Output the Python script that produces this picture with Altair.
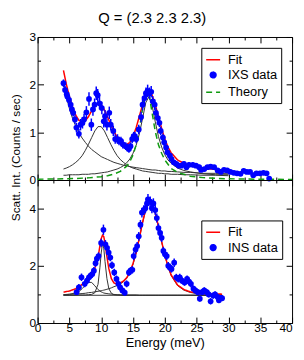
import altair as alt
import pandas as pd

title_text = "Q = (2.3 2.3 2.3)"
y_title = "Scatt. Int. (Counts / sec)"
x_title = "Energy (meV)"

# ---------------- IXS (top panel) ----------------
ixs_E = [4.07, 4.32, 4.58, 4.68, 4.94, 5.20, 5.40, 5.60, 5.87, 6.10, 6.49, 6.75, 7.06, 7.30,
         7.67, 8.08, 8.45, 8.70, 8.96, 9.22, 9.45, 9.73, 10.10, 10.40, 10.60, 10.90, 11.27,
         11.50, 11.90, 12.20, 12.56, 12.80, 13.10, 13.40, 13.85, 14.10, 14.36, 14.60, 14.87,
         15.10, 15.30, 15.50, 15.90, 16.27, 16.50, 16.80, 17.04, 17.30, 17.60, 17.86, 18.10,
         18.40, 18.60, 18.90, 19.15, 19.35, 19.70, 19.90, 20.20, 20.40, 20.80, 21.05, 21.40,
         21.80, 22.20, 22.60, 23.00, 23.40, 23.80, 24.40, 24.90, 25.40, 25.70, 26.20, 26.70,
         27.20, 27.75, 28.30, 28.80, 29.30, 29.80, 30.30, 30.85, 31.35, 31.90, 32.40, 32.90,
         33.40, 33.90, 34.40, 34.95, 35.50, 36.00, 36.40]
ixs_I = [2.03, 1.89, 1.80, 1.75, 1.68, 1.58, 1.48, 1.41, 1.27, 1.10, 0.97, 1.16, 1.20, 1.27,
         1.42, 1.70, 1.16, 1.48, 1.58, 1.82, 1.78, 1.61, 1.51, 1.23, 1.34, 1.16, 1.41,
         1.16, 1.03, 0.86, 0.86, 0.82, 0.82, 0.75, 0.71, 0.68, 0.65, 0.71, 0.86,
         0.92, 0.92, 0.86, 1.06, 1.32, 1.58, 1.72, 1.82, 1.87, 1.82, 1.85, 1.65,
         1.58, 1.41, 1.30, 1.20, 1.03, 0.89, 0.79, 0.68, 0.58, 0.51, 0.44, 0.37,
         0.34, 0.30, 0.30, 0.34, 0.27, 0.32, 0.32, 0.30, 0.27, 0.21, 0.23, 0.27,
         0.28, 0.27, 0.20, 0.17, 0.21, 0.20, 0.17, 0.15, 0.14, 0.13, 0.19, 0.17,
         0.17, 0.10, 0.14, 0.14, 0.15, 0.14, 0.03]
ixs_err = [0.08, 0.08, 0.08, 0.08, 0.08, 0.08, 0.08, 0.08, 0.09, 0.10, 0.10, 0.12, 0.12, 0.12,
           0.13, 0.14, 0.13, 0.13, 0.13, 0.14, 0.13, 0.13, 0.13, 0.13, 0.13, 0.12, 0.13,
           0.12, 0.11, 0.10, 0.10, 0.09, 0.09, 0.09, 0.08, 0.08, 0.08, 0.08, 0.09,
           0.09, 0.09, 0.09, 0.10, 0.11, 0.12, 0.12, 0.12, 0.13, 0.12, 0.12, 0.11,
           0.11, 0.10, 0.10, 0.09, 0.09, 0.08, 0.08, 0.07, 0.07, 0.06, 0.06, 0.05,
           0.05, 0.05, 0.05, 0.05, 0.05, 0.05, 0.05, 0.05, 0.05, 0.04, 0.04, 0.04,
           0.04, 0.04, 0.04, 0.04, 0.04, 0.04, 0.04, 0.04, 0.04, 0.04, 0.04, 0.04,
           0.04, 0.04, 0.04, 0.04, 0.04, 0.04, 0.04]

top_curve_E = [4.07, 4.5, 5, 5.5, 6, 6.5, 7, 7.5, 8, 8.5, 9, 9.5, 10, 10.5, 11, 11.5, 12, 12.5,
               13, 13.5, 14, 14.5, 15, 15.5, 16, 16.5, 17, 17.5, 18, 18.5, 19, 19.5, 20, 20.5,
               21, 22, 23, 24, 26, 28, 30]
top_fit = [2.30, 2.02, 1.75, 1.53, 1.36, 1.25, 1.21, 1.24, 1.33, 1.45, 1.56, 1.61, 1.58, 1.47,
           1.32, 1.16, 1.02, 0.90, 0.81, 0.75, 0.74, 0.79, 0.91, 1.10, 1.34, 1.58, 1.77, 1.85,
           1.78, 1.58, 1.33, 1.08, 0.86, 0.69, 0.57, 0.42, 0.35, 0.30, 0.25, 0.22, 0.20]
top_comp_qe = [2.04, 1.76, 1.50, 1.29, 1.13, 0.99, 0.88, 0.79, 0.71, 0.64, 0.59, 0.54, 0.49, 0.46,
               0.43, 0.40, 0.37, 0.35, 0.33, 0.31, 0.30, 0.28, 0.27, 0.26, 0.25, 0.24, 0.23, 0.22,
               0.21, 0.21, 0.20, 0.19, 0.19, 0.18, 0.18, 0.17, 0.16, 0.16, 0.14, 0.14, 0.13]
top_comp_p1 = [0.23, 0.25, 0.28, 0.32, 0.37, 0.43, 0.51, 0.62, 0.75, 0.89, 1.03, 1.12, 1.12, 1.03,
               0.89, 0.75, 0.62, 0.51, 0.43, 0.37, 0.32, 0.28, 0.25, 0.23, 0.21, 0.19, 0.18, 0.17,
               0.16, 0.15, 0.14, 0.14, 0.13, 0.13, 0.12, 0.12, 0.11, 0.11, 0.10, 0.10, 0.09]
top_comp_p2 = [0.10, 0.10, 0.11, 0.11, 0.11, 0.11, 0.12, 0.12, 0.12, 0.13, 0.13, 0.14, 0.15, 0.16,
               0.17, 0.19, 0.21, 0.23, 0.26, 0.30, 0.36, 0.44, 0.56, 0.73, 0.97, 1.29, 1.62, 1.75,
               1.56, 1.22, 0.91, 0.69, 0.53, 0.42, 0.35, 0.25, 0.20, 0.17, 0.13, 0.11, 0.11]
theory_E = [0, 2, 4, 6, 8, 10, 11, 12, 13, 14, 14.5, 15, 15.5, 16, 16.5, 17, 17.2, 17.5, 18,
            18.5, 19, 19.5, 20, 21, 22, 24, 26, 28, 30, 33, 36, 40]
theory_I = [0.017, 0.02, 0.025, 0.032, 0.045, 0.07, 0.09, 0.125, 0.18, 0.29, 0.385, 0.525, 0.74,
            1.065, 1.50, 1.86, 1.905, 1.815, 1.41, 1.02, 0.74, 0.56, 0.42, 0.24, 0.16, 0.08,
            0.05, 0.035, 0.026, 0.019, 0.015, 0.012]

# ---------------- INS (bottom panel) ----------------
ins_E = [6.13, 6.49, 6.90, 7.41, 7.77, 8.08, 8.34, 8.60, 8.85, 9.11, 9.32, 9.58, 9.99, 10.35,
         10.66, 10.92, 11.17, 11.43, 11.69, 12.05, 12.40, 12.70, 12.97, 13.33, 13.70, 14.00,
         14.36, 14.60, 14.90, 15.10, 15.40, 15.65, 15.90, 16.17, 16.40, 16.70, 16.94, 17.20,
         17.35, 17.70, 17.97, 18.20, 18.50, 18.74, 19.00, 19.26, 19.50, 19.77, 20.03, 20.30,
         20.54, 20.80, 21.05, 21.47, 21.80, 22.10, 22.35, 22.70, 23.10, 23.50, 23.80, 24.10,
         24.50, 24.80, 25.20, 25.50, 25.85, 26.20, 26.60, 26.90, 27.20, 27.60, 27.90, 28.30,
         28.50, 28.77, 29.00]
ins_I = [1.08, 1.25, 1.60, 1.37, 1.48, 1.60, 1.66, 1.71, 1.83, 2.09, 2.25, 2.34, 2.80, 3.26,
         2.75, 2.63, 2.46, 2.29, 2.02, 1.77, 1.54, 1.37, 1.25, 1.14, 1.06, 1.37,
         1.77, 1.83, 1.86, 2.34, 2.57, 2.69, 3.03, 3.44, 3.86, 3.95, 4.01, 4.18,
         4.32, 4.24, 4.01, 4.18, 3.95, 3.67, 3.32, 3.15, 2.98, 2.52, 2.40, 2.34,
         2.00, 1.94, 1.89, 2.11, 1.60, 1.54, 1.60, 1.48, 1.42, 1.54, 1.45, 1.37,
         1.20, 1.14, 1.08, 0.85, 1.08, 1.14, 1.08, 1.00, 0.76, 0.96, 1.00, 0.91,
         0.80, 0.87, 0.87]
ins_err = [0.10, 0.11, 0.13, 0.12, 0.12, 0.12, 0.12, 0.12, 0.13, 0.13, 0.13, 0.13, 0.15, 0.18,
           0.15, 0.14, 0.14, 0.13, 0.13, 0.13, 0.12, 0.12, 0.11, 0.11, 0.11, 0.12,
           0.13, 0.13, 0.13, 0.14, 0.14, 0.14, 0.15, 0.16, 0.17, 0.17, 0.17, 0.18,
           0.19, 0.18, 0.17, 0.18, 0.17, 0.16, 0.16, 0.15, 0.15, 0.14, 0.14, 0.14,
           0.13, 0.13, 0.13, 0.15, 0.12, 0.12, 0.12, 0.12, 0.12, 0.12, 0.12, 0.12,
           0.11, 0.11, 0.11, 0.11, 0.11, 0.11, 0.11, 0.11, 0.11, 0.11, 0.11, 0.11,
           0.11, 0.11, 0.11]

bot_curve_E = [4.07, 5, 6, 6.5, 7, 7.5, 8, 8.5, 9, 9.5, 9.8, 10.0, 10.2, 10.4, 10.6, 10.9, 11.2,
               11.6, 12, 12.5, 13, 13.5, 14, 14.5, 15, 15.5, 16, 16.5, 17, 17.5, 18, 18.5, 19,
               19.5, 20, 20.5, 21, 22, 23, 24, 25, 27, 29]
bot_fit = [1.08, 1.12, 1.20, 1.27, 1.35, 1.45, 1.57, 1.72, 1.92, 2.30, 2.70, 2.95, 3.07, 3.02,
           2.80, 2.32, 1.90, 1.55, 1.40, 1.36, 1.40, 1.47, 1.58, 1.78, 2.08, 2.48, 2.98, 3.52,
           3.98, 4.22, 4.15, 3.85, 3.38, 2.85, 2.38, 1.98, 1.68, 1.33, 1.17, 1.09, 1.05, 1.02, 1.01]
bot_comp_bump = [0.99, 1.01, 1.05, 1.10, 1.20, 1.32, 1.42, 1.42, 1.30, 1.17, 1.12, 1.09, 1.07, 1.05,
                 1.04, 1.03, 1.02, 1.01, 1.00, 0.99, 0.99, 0.98, 0.98, 0.98, 0.98, 0.98, 0.97,
                 0.97, 0.97, 0.97, 0.97, 0.97, 0.97, 0.97, 0.97, 0.97, 0.97, 0.97, 0.97, 0.97,
                 0.97, 0.97, 0.97]
bot_comp_narrow = [0.97, 0.97, 0.97, 0.98, 0.98, 0.98, 0.99, 1.00, 1.06, 1.35, 1.95, 2.45, 2.78, 2.62,
                   2.15, 1.55, 1.20, 1.04, 0.99, 0.98, 0.97, 0.97, 0.97, 0.97, 0.97, 0.97, 0.97,
                   0.97, 0.97, 0.97, 0.97, 0.97, 0.97, 0.97, 0.97, 0.97, 0.97, 0.97, 0.97, 0.97,
                   0.97, 0.97, 0.97]
bot_comp_broad = [0.99, 1.00, 1.01, 1.02, 1.03, 1.04, 1.06, 1.07, 1.09, 1.11, 1.12, 1.13, 1.14, 1.15,
                  1.16, 1.18, 1.20, 1.23, 1.27, 1.31, 1.37, 1.44, 1.56, 1.76, 2.05, 2.45, 2.96,
                  3.50, 3.96, 4.20, 4.13, 3.83, 3.36, 2.83, 2.36, 1.96, 1.66, 1.31, 1.15, 1.07,
                  1.03, 1.00, 0.99]
bot_base_E = [4.07, 29]
bot_base_I = [0.97, 0.97]

# ---------------- ticks ----------------
x_major = [0, 5, 10, 15, 20, 25, 30, 35, 40]
x_minor = [2.5, 7.5, 12.5, 17.5, 22.5, 27.5, 32.5, 37.5]
top_y_major = [0, 1, 2, 3]
top_y_minor = [0.5, 1.5, 2.5]
bot_y_major = [0, 2, 4]
bot_y_minor = [1, 3, 5]

W, H = 258, 145
FONT = "Liberation Sans"
RED, BLUE, GREEN, GREY = "#ff0000", "#0000ff", "#109a10", "#333333"


def ax(orient, values, size, labels=False, labelPadding=2, **kw):
    return alt.Axis(orient=orient, values=values, tickSize=size, offset=-size,
                    domain=False, grid=False, labels=labels, ticks=True,
                    tickColor="black", tickWidth=1, labelColor="black",
                    labelFontSize=12, labelFlush=False, labelPadding=labelPadding,
                    labelOverlap=False, **kw)


def panel(pts, lines, comps, ydom, ymaj, ymin, names, colors, dashes, shapes, sizes,
          xlabels, ytitle, legend_y):
    xs = alt.Scale(domain=[0, 40], nice=False, zero=False)
    ys = alt.Scale(domain=ydom, nice=False, zero=False)
    leg = alt.Legend(orient="none", legendX=166, legendY=legend_y, title=None,
                     strokeColor="black", fillColor="white", padding=4,
                     cornerRadius=0, labelFontSize=13, labelColor="black",
                     labelOffset=7, rowPadding=2, symbolStrokeWidth=1.5,
                     labelFont=FONT)
    cscale = alt.Scale(domain=names, range=colors)

    if xlabels:
        xb = ax("bottom", x_major, 6, labels=True, labelPadding=0, title=x_title,
                titleFontSize=13, titleFontWeight="normal", titleColor="black",
                titlePadding=3,
                labelAlign={"condition": {"test": "datum.value >= 40", "value": "right"},
                            "value": "center"})
    else:
        xb = ax("bottom", x_major, 6, title=None)
    if ytitle:
        yl = ax("left", ymaj, 6, labels=True, title=y_title, titleFontSize=12,
                titleFontWeight="normal", titleColor="black", titlePadding=7,
                titleY=122)
    else:
        yl = ax("left", ymaj, 6, labels=True, title=None)

    comp_layer = alt.Chart(comps).mark_line(color=GREY, strokeWidth=1).encode(
        x=alt.X("E:Q", scale=xs, axis=xb),
        y=alt.Y("v:Q", scale=ys, axis=yl),
        detail="comp:N",
    )
    line_layer = alt.Chart(lines).mark_line(strokeWidth=1.5).encode(
        x=alt.X("E:Q", scale=xs, axis=ax("top", x_major, 6, title=None)),
        y=alt.Y("v:Q", scale=ys, axis=ax("right", ymaj, 6, title=None)),
        color=alt.Color("series:N", scale=cscale, legend=leg),
        strokeDash=alt.StrokeDash("series:N", scale=alt.Scale(domain=names, range=dashes),
                                  legend=leg),
        detail="series:N",
    )
    err_layer = alt.Chart(pts).mark_rule(color=BLUE, strokeWidth=1.5).encode(
        x=alt.X("E:Q", scale=xs, axis=ax("bottom", x_minor, 3, title=None)),
        y=alt.Y("lo:Q", scale=ys, axis=ax("left", ymin, 3, title=None)),
        y2="hi:Q",
    )
    pt_layer = alt.Chart(pts).mark_point(filled=True, opacity=1, strokeWidth=0).encode(
        x=alt.X("E:Q", scale=xs, axis=ax("top", x_minor, 3, title=None)),
        y=alt.Y("v:Q", scale=ys, axis=ax("right", ymin, 3, title=None)),
        color=alt.Color("series:N", scale=cscale, legend=leg),
        shape=alt.Shape("series:N", scale=alt.Scale(domain=names, range=shapes), legend=leg),
        size=alt.Size("series:N", scale=alt.Scale(type="ordinal", domain=names, range=sizes),
                      legend=leg),
    )
    return alt.layer(comp_layer, line_layer, err_layer, pt_layer).resolve_axis(
        x="independent", y="independent").properties(width=W, height=H)


# ----- build tables -----
top_pts = pd.DataFrame({"E": ixs_E, "v": ixs_I, "err": ixs_err})
top_pts["lo"] = top_pts.v - top_pts.err
top_pts["hi"] = top_pts.v + top_pts.err
top_pts["series"] = "IXS data"
top_lines = pd.concat([
    pd.DataFrame({"E": top_curve_E, "v": top_fit, "series": "Fit"}),
    pd.DataFrame({"E": theory_E, "v": theory_I, "series": "Theory"}),
])
top_comps = pd.concat([
    pd.DataFrame({"E": top_curve_E, "v": top_comp_qe, "comp": "qe"}),
    pd.DataFrame({"E": top_curve_E, "v": top_comp_p1, "comp": "p1"}),
    pd.DataFrame({"E": top_curve_E, "v": top_comp_p2, "comp": "p2"}),
])

bot_pts = pd.DataFrame({"E": ins_E, "v": ins_I, "err": ins_err})
bot_pts["lo"] = bot_pts.v - bot_pts.err
bot_pts["hi"] = bot_pts.v + bot_pts.err
bot_pts["series"] = "INS data"
bot_lines = pd.DataFrame({"E": bot_curve_E, "v": bot_fit, "series": "Fit"})
bot_comps = pd.concat([
    pd.DataFrame({"E": bot_base_E, "v": bot_base_I, "comp": "base"}),
    pd.DataFrame({"E": bot_curve_E, "v": bot_comp_bump, "comp": "bump"}),
    pd.DataFrame({"E": bot_curve_E, "v": bot_comp_narrow, "comp": "narrow"}),
    pd.DataFrame({"E": bot_curve_E, "v": bot_comp_broad, "comp": "broad"}),
])

top = panel(top_pts, top_lines, top_comps, [0, 3], top_y_major, top_y_minor,
            ["Fit", "IXS data", "Theory"], [RED, BLUE, GREEN],
            [[1, 0], [1, 0], [6, 4]], ["stroke", "circle", "stroke"], [200, 34, 200],
            xlabels=False, ytitle=True, legend_y=11)
bottom = panel(bot_pts, bot_lines, bot_comps, [0, 5], bot_y_major, bot_y_minor,
               ["Fit", "INS data"], [RED, BLUE],
               [[1, 0], [1, 0]], ["stroke", "circle"], [200, 34],
               xlabels=True, ytitle=False, legend_y=41)

chart = alt.vconcat(top, bottom, spacing=0, bounds="flush").resolve_scale(
    color="independent", strokeDash="independent", shape="independent",
    size="independent").resolve_legend(
    color="independent", strokeDash="independent", shape="independent",
    size="independent").properties(
    title=alt.TitleParams(title_text, fontSize=15, fontWeight="normal", anchor="middle",
                          offset=5, color="black"),
    padding=0,
).configure(font=FONT).configure_view(stroke="black", strokeWidth=1)

chart.save("out.html", embed_options={"renderer": "svg", "actions": False})
